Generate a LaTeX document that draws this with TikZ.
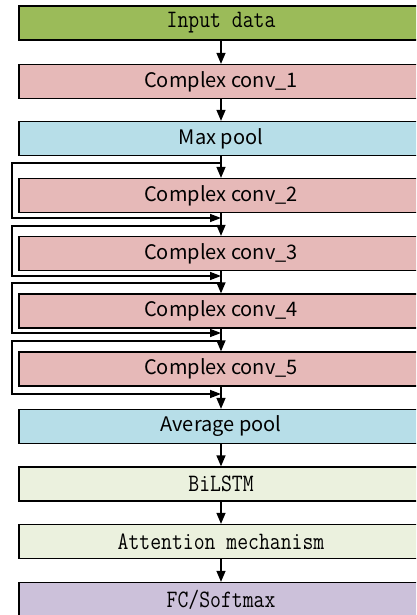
\documentclass[tikz,border=0pt]{standalone}
\usepackage{fontspec}
\newfontfamily\sansf{Noto Sans CJK SC}
\usetikzlibrary{arrows.meta}
\definecolor{cgreen}{RGB}{155,187,89}
\definecolor{cpink}{RGB}{230,185,184}
\definecolor{cblue}{RGB}{183,222,232}
\definecolor{clight}{RGB}{235,241,222}
\definecolor{cpurple}{RGB}{204,193,218}
\newcommand{\mylab}[1]{\scalebox{1.03}[1.22]{#1}}
\begin{document}
\begin{tikzpicture}[x=1pt,y=-1pt,
  layer/.style={draw=black, line width=1.3pt, rectangle, minimum width=404pt, minimum height=34pt, inner sep=0pt},
  monolab/.style={font=\fontsize{20.5}{20.5}\selectfont\ttfamily},
  sanslab/.style={font=\fontsize{20}{20}\selectfont\sansf},
  flow/.style={line width=1.4pt, -{Triangle[length=11pt,width=9pt]}},
  skip/.style={line width=1.4pt, -{Triangle[length=11pt,width=8pt]}}]
\useasboundingbox (0,0) rectangle (416,615);
\clip (0,0) rectangle (416,615);
\fill[white] (0,0) rectangle (416,615);
\node[layer, monolab, fill=cgreen] (in) at (221,23) {\mylab{Input data}};
\node[layer, sanslab, fill=cpink] (c1) at (221,81.5) {Complex conv\_1};
\node[layer, sanslab, fill=cblue] (mp) at (221,138.5) {Max pool};
\node[layer, sanslab, fill=cpink] (c2) at (221,195.5) {Complex conv\_2};
\node[layer, sanslab, fill=cpink] (c3) at (221,253.5) {Complex conv\_3};
\node[layer, sanslab, fill=cpink] (c4) at (221,311) {Complex conv\_4};
\node[layer, sanslab, fill=cpink] (c5) at (221,369) {Complex conv\_5};
\node[layer, sanslab, fill=cblue] (ap) at (221,426.5) {Average pool};
\node[layer, monolab, fill=clight] (bl) at (221,484) {\mylab{BiLSTM}};
\node[layer, monolab, fill=clight] (at) at (221,541.5) {\mylab{Attention mechanism}};
\node[layer, monolab, fill=cpurple] (fc) at (221,599.5) {\mylab{FC/Softmax}};
\draw[flow] (in.south) -- (c1.north);
\draw[flow] (c1.south) -- (mp.north);
\draw[flow] (mp.south) -- (c2.north);
\draw[flow] (c2.south) -- (c3.north);
\draw[flow] (c3.south) -- (c4.north);
\draw[flow] (c4.south) -- (c5.north);
\draw[flow] (c5.south) -- (ap.north);
\draw[flow] (ap.south) -- (bl.north);
\draw[flow] (bl.south) -- (at.north);
\draw[flow] (at.south) -- (fc.north);
\coordinate (s2) at (221,163);
\coordinate (e2) at (221,218);
\coordinate (s3) at (221,226);
\coordinate (e3) at (221,276);
\coordinate (s4) at (221,283);
\coordinate (e4) at (221,333);
\coordinate (s5) at (221,341);
\coordinate (e5) at (221,394);
\draw[skip] (s2) -- ++(-209,0) |- (e2);
\draw[skip] (s3) -- ++(-209,0) |- (e3);
\draw[skip] (s4) -- ++(-209,0) |- (e4);
\draw[skip] (s5) -- ++(-209,0) |- (e5);
\end{tikzpicture}
\end{document}
